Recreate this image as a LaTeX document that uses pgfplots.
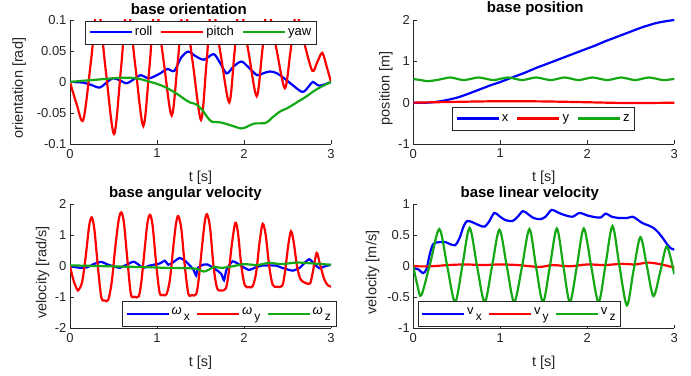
\documentclass[border=0pt]{standalone}
\usepackage{fontspec}
\setmainfont{Liberation Sans}
\usepackage{pgfplots}
\pgfplotsset{compat=1.18}

\definecolor{mblue}{rgb}{0,0,1}
\definecolor{mred}{rgb}{1,0,0}
\definecolor{mgreen}{rgb}{0.08,0.66,0.08}
\definecolor{axgray}{rgb}{0.15,0.15,0.15}

% subscript in the style of the legend labels
\newcommand{\msub}[1]{\raisebox{-5.5pt}{\,\fontsize{12}{14}\selectfont #1}}
\newcommand{\om}{{\itshape ω}}

\pgfplotsset{
  panel/.style={
    scale only axis, width=261pt, height=124pt,
    axis x line*=bottom, axis y line*=left,
    axis line style={axgray, line width=0.8pt, -},
    tick style={axgray, line width=0.8pt},
    tick align=inside, major tick length=3.5pt,
    xmin=0, xmax=3, xtick={0,1,2,3}, xticklabels={0,1,2,3},
    ticklabel style={font=\fontsize{13}{15}\selectfont, text=axgray},
    xticklabel style={yshift=-1.5pt},
    xlabel={t [s]},
    label style={font=\fontsize{14.5}{17}\selectfont, text=axgray},
    xlabel style={at={(axis description cs:0.5,0)}, anchor=center, yshift=-34pt},
    title style={font=\fontsize{15}{18}\selectfont\bfseries, anchor=center, yshift=5pt},
    every axis plot/.append style={line width=2.2pt, smooth, no marks},
    legend image code/.code={\draw[#1, line width=2.2pt] (0pt,0pt) -- (42pt,0pt);},
    legend style={draw=axgray, line width=0.6pt, fill=white,
      font=\fontsize{13}{15}\selectfont, legend columns=3,
      inner xsep=3pt, inner ysep=2pt, anchor=center,
      nodes={inner ysep=1pt, text height=11.5pt, text depth=5.5pt},
      /tikz/every even column/.append style={column sep=6pt}},
  },
  sublegend/.style={legend style={nodes={text height=10pt, text depth=9pt},
      /tikz/every even column/.append style={column sep=4pt}}},
}

\begin{document}
\begin{tikzpicture}
\path[use as bounding box] (0,0) rectangle (691pt,375pt);

% ---------------- base orientation ----------------
\begin{axis}[panel, at={(70pt,231pt)}, anchor=south west,
  ymin=-0.1, ymax=0.1, ytick={-0.1,-0.05,0,0.05,0.1},
  yticklabels={-0.1,-0.05,0,0.05,0.1},
  ylabel={orientation [rad]},
  ylabel style={at={(axis description cs:-0.195,0.45)}, anchor=center},
  title={base orientation}, title style={at={(axis description cs:0.455,1)}},
  legend style={at={(0.502,0.9)}}]
\addplot[mblue] table {
0 0
0.15 -0.001
0.25 -0.005
0.34 -0.009
0.42 -0.001
0.49 0.006
0.57 0.003
0.65 -0.002
0.74 0.005
0.81 0.011
0.90 0.006
0.97 0.009
1.05 0.015
1.12 0.021
1.20 0.018
1.28 0.040
1.36 0.049
1.44 0.042
1.54 0.036
1.65 0.045
1.72 0.032
1.80 0.014
1.88 0.025
1.97 0.033
2.05 0.024
2.15 0.011
2.22 0.014
2.30 0.017
2.38 0.014
2.46 0.006
2.55 -0.004
2.67 -0.016
2.74 -0.008
2.79 0.000
2.87 -0.006
3.00 0.000
};
\addplot[mred] table {
0 0
0.075 -0.035
0.153 -0.061
0.24 0.032
0.32 0.125
0.41 0.020
0.506 -0.084
0.585 0.020
0.66 0.125
0.75 0.027
0.843 -0.071
0.915 0.027
0.98 0.125
1.075 0.035
1.169 -0.054
1.24 0.035
1.31 0.125
1.41 0.032
1.506 -0.061
1.57 0.032
1.63 0.125
1.73 0.046
1.83 -0.033
1.89 0.046
1.95 0.125
2.05 0.050
2.146 -0.023
2.21 0.050
2.27 0.120
2.37 0.055
2.47 -0.010
2.535 0.050
2.60 0.110
2.69 0.064
2.785 0.018
2.845 0.033
2.90 0.047
2.95 0.025
3.00 0.000
};
\addplot[mgreen] table {
0 0
0.15 0.002
0.33 0.004
0.50 0.006
0.67 0.007
0.80 0.005
0.90 0.001
1.00 -0.003
1.09 -0.008
1.17 -0.014
1.25 -0.021
1.32 -0.028
1.38 -0.033
1.45 -0.036
1.52 -0.045
1.58 -0.057
1.63 -0.064
1.72 -0.065
1.83 -0.069
1.97 -0.075
2.05 -0.071
2.12 -0.067
2.25 -0.066
2.32 -0.058
2.41 -0.048
2.50 -0.042
2.56 -0.037
2.64 -0.030
2.71 -0.024
2.80 -0.015
2.87 -0.009
2.94 -0.004
3.00 0.000
};
\legend{roll,pitch,yaw}
\end{axis}

% ---------------- base position ----------------
\begin{axis}[panel, at={(413.3pt,231pt)}, anchor=south west,
  ymin=-1, ymax=2, ytick={-1,0,1,2}, yticklabels={-1,0,1,2},
  ylabel={position [m]},
  ylabel style={at={(axis description cs:-0.105,0.45)}, anchor=center},
  title={base position}, title style={at={(axis description cs:0.4675,1)}},
  legend style={at={(0.4995,0.206)}}]
\addplot[mblue] table {
0 0
0.1 -0.005
0.2 0.005
0.3 0.03
0.4 0.07
0.5 0.12
0.6 0.19
0.7 0.27
0.8 0.35
0.9 0.43
1.0 0.50
1.1 0.58
1.2 0.66
1.3 0.74
1.4 0.83
1.5 0.91
1.6 0.99
1.7 1.07
1.8 1.15
1.9 1.23
2.0 1.31
2.1 1.39
2.2 1.48
2.3 1.56
2.4 1.64
2.5 1.72
2.6 1.80
2.7 1.87
2.8 1.93
2.9 1.97
3.0 2.00
};
\addplot[mred] table {
0 0
0.5 0.02
1.0 0.035
1.5 0.03
2.0 0.01
2.5 -0.01
3.0 0.0
};
\addplot[mgreen] table {
0 0.57
0.08 0.55
0.17 0.52
0.30 0.56
0.42 0.61
0.50 0.578
0.58 0.545
0.665 0.578
0.75 0.61
0.835 0.578
0.92 0.545
1.005 0.578
1.09 0.61
1.17 0.578
1.25 0.545
1.33 0.578
1.41 0.61
1.495 0.578
1.58 0.545
1.66 0.578
1.74 0.61
1.82 0.578
1.90 0.545
1.98 0.578
2.06 0.61
2.145 0.578
2.23 0.545
2.31 0.578
2.39 0.61
2.47 0.578
2.55 0.545
2.63 0.578
2.71 0.61
2.795 0.578
2.88 0.545
3.00 0.575
};
\legend{x,y,z}
\end{axis}

% ---------------- base angular velocity ----------------
\begin{axis}[panel, sublegend, at={(70pt,46.7pt)}, anchor=south west,
  ymin=-2, ymax=2, ytick={-2,-1,0,1,2}, yticklabels={-2,-1,0,1,2},
  ylabel={velocity [rad/s]},
  ylabel style={at={(axis description cs:-0.105,0.45)}, anchor=center},
  title={base angular velocity}, title style={at={(axis description cs:0.442,1)}},
  legend style={at={(0.61,0.114)}}]
\addplot[mblue, tension=0.35] table {
0 0
0.07 -0.03
0.13 -0.05
0.20 -0.03
0.28 0.08
0.36 0.14
0.44 0.05
0.50 0.00
0.57 -0.05
0.65 0.05
0.73 0.15
0.79 0.05
0.84 -0.05
0.91 0.02
0.98 0.06
1.04 0.10
1.09 0.18
1.13 0.05
1.18 0.12
1.26 0.27
1.32 0.18
1.38 0.02
1.42 -0.12
1.45 -0.30
1.47 -0.05
1.53 0.05
1.58 0.06
1.63 -0.02
1.68 -0.11
1.74 -0.25
1.77 -0.45
1.80 -0.10
1.87 0.16
1.95 0.05
2.00 -0.04
2.06 -0.12
2.12 -0.05
2.20 0.02
2.30 0.03
2.37 0.02
2.45 -0.06
2.56 -0.14
2.64 -0.05
2.70 0.12
2.75 0.23
2.80 0.10
2.865 -0.06
2.93 0.00
3.00 0.05
};
\addplot[mred] table {
0.00 0.00
0.04 -0.45
0.08 -0.74
0.10 -0.76
0.14 -0.50
0.18 0.30
0.22 1.30
0.25 1.58
0.28 1.20
0.32 0.00
0.36 -1.00
0.40 -1.10
0.44 -1.08
0.48 -0.50
0.52 0.60
0.56 1.50
0.59 1.74
0.62 1.40
0.66 0.20
0.70 -0.90
0.74 -0.98
0.79 -0.97
0.82 -0.50
0.86 0.60
0.89 1.40
0.92 1.66
0.95 1.30
0.99 0.10
1.03 -0.85
1.07 -0.92
1.11 -0.90
1.15 -0.40
1.19 0.70
1.22 1.40
1.245 1.62
1.28 1.20
1.32 0.00
1.36 -0.88
1.40 -0.93
1.45 -0.90
1.48 -0.40
1.52 0.70
1.55 1.45
1.575 1.68
1.61 1.25
1.65 0.00
1.69 -0.70
1.74 -0.78
1.79 -0.72
1.82 -0.30
1.86 0.70
1.90 1.40
1.93 1.10
1.97 0.00
2.01 -0.62
2.06 -0.67
2.10 -0.64
2.14 -0.20
2.18 0.80
2.215 1.37
2.25 1.00
2.29 0.00
2.33 -0.60
2.38 -0.66
2.44 -0.63
2.47 -0.20
2.51 0.70
2.54 1.13
2.57 0.80
2.61 0.00
2.65 -0.42
2.71 -0.54
2.76 -0.55
2.79 -0.20
2.835 0.43
2.87 0.10
2.92 -0.40
2.96 -0.60
3.00 -0.66
};
\addplot[mgreen] table {
0 0.03
0.30 0.01
0.60 -0.01
0.90 -0.03
1.10 -0.05
1.30 -0.06
1.45 -0.08
1.54 -0.17
1.60 -0.10
1.66 -0.02
1.74 -0.05
1.87 0.00
2.00 0.07
2.15 0.04
2.29 0.11
2.43 0.07
2.60 0.12
2.75 0.10
2.90 0.07
3.00 0.05
};
\legend{\om\msub{x},\om\msub{y},\om\msub{z}}
\end{axis}

% ---------------- base linear velocity ----------------
\begin{axis}[panel, sublegend, at={(413.3pt,46.7pt)}, anchor=south west,
  ymin=-1, ymax=1, ytick={-1,-0.5,0,0.5,1}, yticklabels={-1,-0.5,0,0.5,1},
  ylabel={velocity [m/s]},
  ylabel style={at={(axis description cs:-0.156,0.45)}, anchor=center},
  title={base linear velocity}, title style={at={(axis description cs:0.4465,1)}},
  legend style={at={(0.406,0.114)}}]
\addplot[mblue] table {
0 -0.03
0.06 -0.05
0.11 -0.11
0.15 -0.05
0.19 0.20
0.23 0.36
0.30 0.39
0.37 0.39
0.42 0.36
0.48 0.34
0.53 0.45
0.58 0.65
0.62 0.73
0.68 0.71
0.76 0.66
0.82 0.64
0.87 0.72
0.93 0.86
0.98 0.82
1.05 0.75
1.14 0.73
1.20 0.80
1.26 0.89
1.32 0.84
1.38 0.78
1.46 0.76
1.52 0.80
1.59 0.91
1.66 0.87
1.73 0.83
1.83 0.80
1.91 0.86
2.00 0.82
2.10 0.79
2.16 0.79
2.21 0.85
2.28 0.80
2.36 0.78
2.46 0.78
2.52 0.80
2.57 0.76
2.63 0.70
2.70 0.66
2.76 0.62
2.82 0.54
2.87 0.45
2.92 0.35
2.96 0.29
3.00 0.27
};
\addplot[mred] table {
0 0
0.2 0.0
0.4 0.02
0.6 0.03
0.8 0.02
1.0 0.03
1.2 0.02
1.45 -0.01
1.6 0.02
1.8 0.0
2.0 0.03
2.2 0.02
2.4 0.04
2.55 0.03
2.7 0.06
2.85 0.03
3.0 -0.02
};
\addplot[mgreen] table {
0 0
0.046 -0.30
0.092 -0.47
0.196 0.06
0.30 0.60
0.39 0.00
0.48 -0.58
0.563 0.00
0.647 0.62
0.733 0.00
0.82 -0.58
0.905 0.00
0.99 0.59
1.075 0.00
1.16 -0.58
1.25 0.00
1.335 0.60
1.41 0.00
1.49 -0.58
1.57 0.00
1.65 0.61
1.725 0.00
1.80 -0.58
1.88 0.00
1.96 0.61
2.045 0.00
2.13 -0.58
2.21 0.03
2.29 0.65
2.37 0.00
2.455 -0.63
2.53 -0.08
2.61 0.47
2.685 0.00
2.76 -0.48
2.84 -0.08
2.915 0.32
3.00 -0.13
};
\legend{v\msub{x},v\msub{y},v\msub{z}}
\end{axis}
\end{tikzpicture}
\end{document}
